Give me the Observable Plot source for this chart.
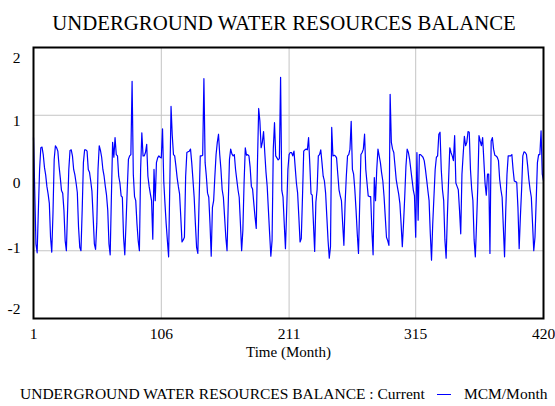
<!DOCTYPE html>
<html>
<head>
<meta charset="utf-8">
<script src="https://cdn.jsdelivr.net/npm/d3@7"></script>
<script src="https://cdn.jsdelivr.net/npm/@observablehq/plot@0.6"></script>
<style>
  body { margin: 0; background: #fff; color: #000; font-family: "Liberation Serif", "Times New Roman", serif; }
  #wrap { width: 555px; height: 406px; position: relative; overflow: hidden; background: #fff; }
  #title { height: 40px; box-sizing: border-box; padding-top: 12px; padding-left: 13px; text-align: center;
           font-size: 20.8px; line-height: 21px; white-space: nowrap; }
  #chart svg { display: block; font-family: "Liberation Serif", "Times New Roman", serif !important; }
  #chart svg text { font-family: "Liberation Serif", "Times New Roman", serif !important; }
  #legend { height: 40px; box-sizing: border-box; padding-top: 20px; padding-left: 20px;
            font-size: 15.5px; line-height: 15.5px; white-space: nowrap; }
  #legend .sw { display: inline-block; width: 14px; height: 0; border-top: 1.5px solid #0000ff;
                vertical-align: middle; margin: 0 13px 0 12px; position: relative; top: -1px; }
</style>
</head>
<body>
<div id="wrap">
  <div id="title"></div>
  <div id="chart"></div>
  <div id="legend"><span id="lgName"></span><span class="sw"></span><span id="lgUnit"></span></div>
</div>
<script>
// ---- chart texts ----
const chartTitle = "UNDERGROUND WATER RESOURCES BALANCE";
const seriesName = "UNDERGROUND WATER RESOURCES BALANCE : Current";
const unitLabel = "MCM/Month";
const xLabel = "Time (Month)";

// ---- tick labels ----
const xTicks = [1, 106, 211, 315, 420];
const yTicks = [2, 1, 0, -1, -2];
const xGrid = [106, 211, 315];
const yGrid = [1, 0, -1];

// ---- series values: months 1..420 (one row = 12 months) ----
const balance = [
  0.67,-0.1,-0.9,-1.03,-0.4,0.2,0.52,0.53,0.42,0.23,0.12,-0.05,
  -0.16,-0.3,-0.8,-1.02,-0.45,0.35,0.55,0.52,0.47,0.25,0.08,-0.11,
  -0.15,-0.4,-0.85,-1.0,-0.4,0.2,0.48,0.49,0.4,0.2,0.12,0.0,
  -0.14,-0.65,-0.95,-1.0,-0.4,0.3,0.49,0.49,0.47,0.2,0.16,0.03,
  -0.12,-0.5,-0.9,-0.98,-0.6,0.2,0.55,0.48,0.38,0.2,0.1,-0.05,
  -0.18,-0.4,-0.9,-1.06,-0.2,0.6,0.38,0.67,0.42,0.4,0.1,0.0,
  -0.19,-0.21,-0.8,-1.06,-0.6,-0.1,0.35,0.4,0.42,1.5,0.13,-0.2,
  -0.26,-0.6,-0.85,-1.0,0.2,0.74,0.4,0.4,0.45,0.57,0.1,-0.05,
  -0.16,-0.26,-0.83,0.2,-0.26,0.3,0.37,0.4,0.38,0.37,0.8,0.03,
  -0.3,-0.6,-0.85,-1.09,0.0,1.13,0.7,0.42,0.4,0.25,0.08,-0.05,
  -0.16,-0.5,-0.87,-0.84,-0.8,0.1,0.45,0.46,0.47,0.5,0.3,0.05,
  -0.21,-0.6,-0.95,-1.04,-0.3,0.4,0.4,0.41,1.54,0.3,0.1,-0.15,
  -0.21,-0.6,-1.08,-0.36,-0.26,0.1,0.42,0.6,0.72,0.42,0.2,-0.1,
  -0.21,-0.5,-0.8,-1.0,-0.3,0.35,0.5,0.43,0.4,0.42,0.2,0.05,
  -0.1,-0.21,-0.6,-1.0,-0.7,0.0,0.52,0.41,0.42,0.4,0.23,-0.05,
  -0.09,-0.3,-0.5,-0.67,0.3,1.1,0.91,0.52,0.6,0.76,0.45,0.16,
  -0.05,-0.4,-0.75,-1.08,-0.85,0.5,0.89,0.4,0.37,0.34,0.36,1.56,
  -0.11,-0.21,-0.6,-0.97,-0.4,0.2,0.42,0.45,0.45,0.4,0.47,0.23,
  0.0,-0.15,-0.5,-0.87,-0.82,-0.2,0.47,0.49,0.5,0.49,0.67,0.28,
  -0.16,-0.18,-0.6,-1.01,-0.28,-0.1,0.4,0.42,0.49,0.3,0.1,0.03,
  -0.15,-0.5,-0.85,-1.11,-0.94,0.82,0.4,0.41,0.4,0.37,0.13,-0.1,
  -0.19,-0.26,-0.6,-0.92,-0.3,0.1,0.4,0.42,0.5,0.91,0.2,0.13,
  -0.1,-0.4,-0.75,-1.04,-0.3,0.42,0.45,0.5,0.72,0.2,0.0,-0.19,
  -0.2,-0.2,-0.7,-1.06,0.08,-0.26,0.2,0.5,0.4,0.3,0.15,0.03,
  -0.2,-0.5,-0.8,-0.85,-0.92,1.31,0.6,0.5,0.45,0.25,0.05,-0.06,
  -0.16,-0.3,-0.6,-0.94,-0.6,-0.2,0.25,0.5,0.45,0.35,0.2,0.05,
  -0.1,-0.19,-0.8,0.45,-0.55,0.42,0.42,0.4,0.38,0.33,0.2,0.05,
  -0.11,-0.26,-0.75,-1.14,-0.6,-0.2,0.2,0.38,0.4,0.72,0.75,0.2,
  -0.1,-0.26,-0.84,-1.11,-0.5,0.03,0.52,0.45,0.4,0.33,0.7,0.0,
  -0.05,-0.1,-0.4,-0.75,0.13,0.42,0.69,0.55,0.6,0.76,0.75,0.2,
  -0.09,-0.26,-0.84,-1.09,-0.6,-0.06,0.7,0.62,0.55,0.67,0.33,-0.01,
  -0.18,0.13,0.13,-1.04,0.62,0.67,0.5,0.41,0.4,0.38,0.33,0.05,
  -0.1,-0.21,-0.65,-1.09,-0.4,0.13,0.4,0.4,0.4,0.42,0.2,0.03,
  0.02,0.01,-0.36,-0.97,-0.5,-0.1,0.4,0.46,0.45,0.42,0.25,0.05,
  -0.1,-0.21,-0.6,-1.0,-0.8,-0.26,0.3,0.42,0.42,0.77,0.13,0.03
];

const data = balance.map((v, i) => ({month: i + 1, value: v}));
const fmt = d => String(d);
const serif = "Liberation Serif";

document.getElementById("title").textContent = chartTitle;
document.getElementById("lgName").textContent = seriesName;
document.getElementById("lgUnit").textContent = unitLabel;

const yAxisLabel = (t, dy) => Plot.axisY([t], {tickSize: 0, tickPadding: 13, dy, tickFormat: fmt, label: null, fontSize: 15.5, fontFamily: serif});

const chart = Plot.plot({
  width: 555,
  height: 326,
  marginTop: 7,
  marginBottom: 48,
  marginLeft: 33,
  marginRight: 12,
  style: {fontSize: "15.5px", color: "#000", background: "transparent", overflow: "visible"},
  x: {domain: [xTicks[0], xTicks[xTicks.length - 1]]},
  y: {domain: [yTicks[yTicks.length - 1], yTicks[0]]},
  marks: [
    Plot.gridX(xGrid, {stroke: "#c4c4c4", strokeOpacity: 1, strokeWidth: 1}),
    Plot.gridY(yGrid, {stroke: "#c4c4c4", strokeOpacity: 1, strokeWidth: 1}),
    Plot.line(data, {x: "month", y: "value", stroke: "#0000ff", strokeWidth: 1.2}),
    Plot.frame({stroke: "#000", strokeWidth: 2}),
    Plot.axisX(xTicks, {tickSize: 0, tickPadding: 9, tickFormat: fmt, label: null, fontSize: 15.5, fontFamily: serif}),
    Plot.text([xLabel], {frameAnchor: "bottom", dy: 38, fontSize: 15, fontFamily: serif, text: d => d}),
    yAxisLabel(yTicks[0], 11),
    yAxisLabel(yTicks[1], 6),
    yAxisLabel(yTicks[2], 0),
    yAxisLabel(yTicks[3], -3),
    yAxisLabel(yTicks[4], -9)
  ]
});
document.getElementById("chart").appendChild(chart);
</script>
</body>
</html>
